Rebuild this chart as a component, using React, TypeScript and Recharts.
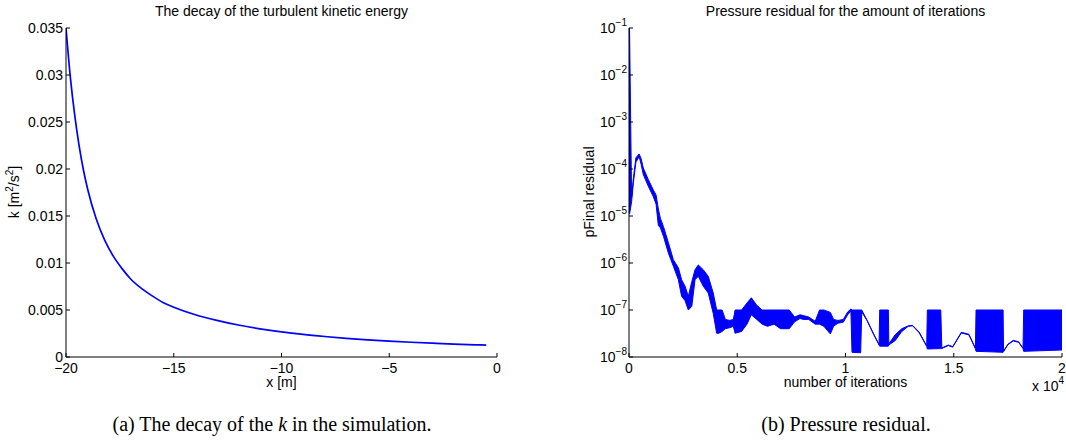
import React from 'react';
import { LineChart, Line, AreaChart, Area, XAxis, YAxis } from 'recharts';

const SANS = '"Liberation Sans", Arial, Helvetica, sans-serif';
const SERIF = '"Liberation Serif", "Times New Roman", serif';
const BLUE = '#0000ff';
const INK = '#000000';

// (a) decay of k along x
const xPositions = [
  -20, -19.8, -19.6, -19.4, -19.2, -19, -18.6, -18.2, -17.8, -17.4, -17, -16.5, -16, -15.5, -15,
  -14, -13, -12, -11, -10, -9, -8, -7, -6, -5, -4, -3, -2, -1, -0.5,
];
const kValues = [
  0.035, 0.0298, 0.0258, 0.0226, 0.02, 0.0179, 0.0147, 0.0124, 0.0107, 0.0094, 0.0083, 0.0073, 0.0065, 0.0058, 0.0053,
  0.0045, 0.0039, 0.0034, 0.003, 0.00267, 0.0024, 0.00218, 0.00199, 0.00183, 0.00169, 0.00157, 0.00147, 0.00138, 0.0013, 0.00126,
];
const xTicksA = [-20, -15, -10, -5, 0];
const kTicks = [0, 0.005, 0.01, 0.015, 0.02, 0.025, 0.03, 0.035];

// (b) pressure residual, lower / upper envelope of the oscillating trace
const iterations = [
  0, 25, 120, 200, 320, 470, 560, 660, 890, 1120, 1250, 1355, 1450, 1590, 1820, 2050, 2280, 2430, 2590, 2740,
  2900, 3050, 3200, 3430, 3660, 3890, 4050, 4150, 4300, 4450, 4650, 4820, 4900, 5200, 5450, 5650, 5900, 6150,
  6400, 6700, 7000, 7400, 7650, 7900, 8050, 8300, 8600, 8800, 9000, 9300, 9450, 9650, 9900, 10100, 10250,
  10300, 10700, 10750, 11000, 11300, 11550, 11580, 11980, 12000, 12300, 12600, 12900, 13100, 13400, 13750,
  13780, 14400, 14450, 14750, 14950, 15350, 15700, 16000, 16030, 17280, 17300, 17500, 17750, 18000, 18200,
  18230, 20000,
];
const residualLow = [
  1.2e-5, 1.1e-5, 2.0e-5, 5.0e-5, 1.41e-4, 1.82e-4, 1.26e-4, 7.6e-5, 4.3e-5, 2.6e-5, 1.78e-5, 6.3e-6, 5.6e-6, 3.7e-6, 1.62e-6, 8.5e-7, 4.4e-7, 1.95e-7, 1.58e-7, 1.0e-7,
  1.2e-7, 4.4e-7, 5.2e-7, 3.2e-7, 2.3e-7, 8.5e-8, 3.2e-8, 3.2e-8, 3.5e-8, 4.0e-8, 4.2e-8, 4.5e-8, 3.2e-8, 3.5e-8, 5.0e-8, 7.9e-8, 6.3e-8, 5.0e-8,
  4.5e-8, 5.0e-8, 4.0e-8, 4.0e-8, 5.6e-8, 6.6e-8, 6.3e-8, 6.3e-8, 5.0e-8, 5.0e-8, 4.5e-8, 3.1e-8, 4.5e-8, 5.25e-8, 5.5e-8, 7.9e-8, 9.5e-8,
  1.26e-8, 1.23e-8, 9.1e-8, 5.9e-8, 3.0e-8, 1.8e-8, 1.7e-8, 1.7e-8, 1.8e-8, 2.24e-8, 3.5e-8, 4.5e-8, 4.6e-8, 3.3e-8, 1.68e-8,
  1.48e-8, 1.51e-8, 1.52e-8, 1.75e-8, 1.62e-8, 3.25e-8, 2.95e-8, 1.5e-8, 1.32e-8, 1.26e-8, 1.3e-8, 1.82e-8, 2.2e-8, 2.05e-8, 1.5e-8,
  1.32e-8, 1.41e-8,
];
const residualHigh = [
  1e-1, 1e-1, 2.5e-5, 6.3e-5, 1.74e-4, 2.09e-4, 1.66e-4, 1.05e-4, 6.0e-5, 3.6e-5, 2.8e-5, 1.41e-5, 8.9e-6, 6.0e-6, 2.7e-6, 1.17e-6, 7.9e-7, 4.4e-7, 3.2e-7, 1.95e-7,
  4.0e-7, 7.2e-7, 9.1e-7, 7.2e-7, 5.2e-7, 2.3e-7, 1.0e-7, 1.0e-7, 1.0e-7, 6.3e-8, 6.0e-8, 6.3e-8, 1.0e-7, 1.0e-7, 1.41e-7, 1.82e-7, 1.26e-7, 1.0e-7,
  1.0e-7, 1.0e-7, 1.0e-7, 1.0e-7, 7.1e-8, 7.9e-8, 7.6e-8, 7.1e-8, 5.75e-8, 1.0e-7, 1.0e-7, 8.9e-8, 6.3e-8, 6.0e-8, 6.3e-8, 9.1e-8, 1.05e-7,
  1.0e-7, 1.0e-7, 1.0e-7, 6.0e-8, 3.1e-8, 1.85e-8, 1.0e-7, 1.0e-7, 1.9e-8, 3.0e-8, 4.0e-8, 4.6e-8, 4.7e-8, 3.4e-8, 1.72e-8,
  1.0e-7, 1.0e-7, 1.56e-8, 1.8e-8, 1.66e-8, 3.35e-8, 3.05e-8, 1.55e-8, 1.0e-7, 1.0e-7, 1.34e-8, 1.87e-8, 2.26e-8, 2.1e-8, 1.55e-8,
  1.0e-7, 1.0e-7,
];
const iterTicks = [0, 5000, 10000, 15000, 20000];
const decadeExponents = [-8, -7, -6, -5, -4, -3, -2, -1];
const minorMantissas = [2, 3, 4, 5, 6, 7, 8, 9];

const kData = xPositions.map((x, i) => ({ x, k: kValues[i] }));
const residualData = iterations.map((it, i) => ({ it, band: [residualLow[i], residualHigh[i]] }));
const decadeTicks = decadeExponents.map((e) => Math.pow(10, e));
const minorTicks = decadeExponents.slice(0, -1).flatMap((e) => minorMantissas.map((m) => m * Math.pow(10, e)));

const tickFont = { fontSize: 14, fontFamily: SANS, fill: INK };
const line = { stroke: INK, strokeWidth: 1 };
const noTick = () => <g />;
const minus = (v: number) => (v < 0 ? `\u2212${Math.abs(v)}` : String(v));

function PowerTick(props: any) {
  const { x, y, payload } = props;
  const exp = Math.round(Math.log10(payload.value));
  return (
    <text x={x} y={y + 5} textAnchor="end" fontSize={14} fontFamily={SANS} fill={INK}>
      10<tspan dy={-7} fontSize={10}>{minus(exp)}</tspan>
    </text>
  );
}

const kAxisLabel = () => (
  <text x={19} y={192} transform="rotate(-90 19 192)" textAnchor="middle" fontSize={14} fontFamily={SANS} fill={INK}>
    k [m<tspan dy={-6} fontSize={10}>2</tspan>
    <tspan dy={6}>/s</tspan>
    <tspan dy={-6} fontSize={10}>2</tspan>
    <tspan dy={6}>]</tspan>
  </text>
);

const residualAxisLabel = () => (
  <text x={64} y={192} transform="rotate(-90 64 192)" textAnchor="middle" fontSize={14} fontFamily={SANS} fill={INK}>
    pFinal residual
  </text>
);

const xLabelA = () => (
  <text x={281.5} y={387} textAnchor="middle" fontSize={14} fontFamily={SANS} fill={INK}>x [m]</text>
);

const xLabelB = () => (
  <text x={315.5} y={387} textAnchor="middle" fontSize={14} fontFamily={SANS} fill={INK}>number of iterations</text>
);

export default function App() {
  return (
    <div style={{ position: 'absolute', left: 0, top: 0, width: 1066, height: 445, background: '#fff' }}>
      <div style={{ position: 'absolute', left: 0, top: 0 }}>
        <LineChart width={530} height={400} data={kData} margin={{ top: 28, right: 33, bottom: 0, left: 0 }}>
          <XAxis
            dataKey="x" type="number" domain={[-20, 0]} ticks={xTicksA} interval={0} allowDataOverflow
            height={43} tickSize={-4} tickMargin={10} tick={tickFont} tickFormatter={minus}
            axisLine={line} tickLine={line} label={xLabelA}
          />
          <XAxis
            xAxisId="top" orientation="top" mirror type="number" domain={[-20, 0]} ticks={xTicksA} interval={0}
            allowDataOverflow height={0} tickSize={4} tick={noTick} axisLine={line} tickLine={line}
          />
          <YAxis
            type="number" domain={[0, 0.035]} ticks={kTicks} interval={0} allowDataOverflow width={66}
            tickSize={-4} tickMargin={7} tick={tickFont} axisLine={line} tickLine={line} label={kAxisLabel}
          />
          <YAxis
            yAxisId="right" orientation="right" mirror type="number" domain={[0, 0.035]} ticks={kTicks} interval={0}
            allowDataOverflow width={0} tickSize={4} tick={noTick} axisLine={line} tickLine={line}
          />
          <Line type="monotone" dataKey="k" stroke={BLUE} strokeWidth={1.7} dot={false} activeDot={false} isAnimationActive={false} />
        </LineChart>
      </div>

      <div style={{ position: 'absolute', left: 530, top: 0 }}>
        <AreaChart width={536} height={400} data={residualData} margin={{ top: 28, right: 4, bottom: 0, left: 0 }}>
          <XAxis
            dataKey="it" type="number" domain={[0, 20000]} ticks={iterTicks} interval={0} allowDataOverflow
            height={43} tickSize={-4} tickMargin={10} tick={tickFont} tickFormatter={(v: number) => String(v / 10000)}
            axisLine={line} tickLine={line} label={xLabelB}
          />
          <XAxis
            xAxisId="top" orientation="top" mirror type="number" domain={[0, 20000]} ticks={iterTicks} interval={0}
            allowDataOverflow height={0} tickSize={4} tick={noTick} axisLine={line} tickLine={line}
          />
          <YAxis
            type="number" scale="log" domain={[1e-8, 1e-1]} ticks={decadeTicks} interval={0} allowDataOverflow
            width={99} tickSize={-4} tickMargin={6} tick={<PowerTick />} axisLine={line} tickLine={line}
            label={residualAxisLabel}
          />
          <YAxis
            yAxisId="minorLeft" orientation="left" mirror type="number" scale="log" domain={[1e-8, 1e-1]}
            ticks={minorTicks} interval={0} allowDataOverflow width={0} tickSize={2} tick={noTick}
            axisLine={false} tickLine={line}
          />
          <YAxis
            yAxisId="right" orientation="right" mirror type="number" scale="log" domain={[1e-8, 1e-1]}
            ticks={decadeTicks} interval={0} allowDataOverflow width={0} tickSize={4} tick={noTick}
            axisLine={line} tickLine={line}
          />
          <YAxis
            yAxisId="minorRight" orientation="right" mirror type="number" scale="log" domain={[1e-8, 1e-1]}
            ticks={minorTicks} interval={0} allowDataOverflow width={0} tickSize={2} tick={noTick}
            axisLine={false} tickLine={line}
          />
          <Area
            type="linear" dataKey="band" stroke={BLUE} strokeWidth={1} fill={BLUE} fillOpacity={1}
            dot={false} activeDot={false} isAnimationActive={false}
          />
        </AreaChart>
      </div>

      <svg width={1066} height={445} style={{ position: 'absolute', left: 0, top: 0, pointerEvents: 'none' }}>
        <g fontFamily={SANS} fontSize={14} fill={INK}>
          <text x={281.5} y={16} textAnchor="middle">The decay of the turbulent kinetic energy</text>
          <text x={845.5} y={16} textAnchor="middle">Pressure residual for the amount of iterations</text>
          <text x={1032} y={391}>
            x 10<tspan dy={-7} fontSize={10}>4</tspan>
          </text>
        </g>
        <g fontFamily={SERIF} fontSize={20} fill={INK}>
          <text x={272} y={431} textAnchor="middle">
            (a) The decay of the <tspan fontStyle="italic">k</tspan> in the simulation.
          </text>
          <text x={846} y={431} textAnchor="middle">(b) Pressure residual.</text>
        </g>
      </svg>
    </div>
  );
}
